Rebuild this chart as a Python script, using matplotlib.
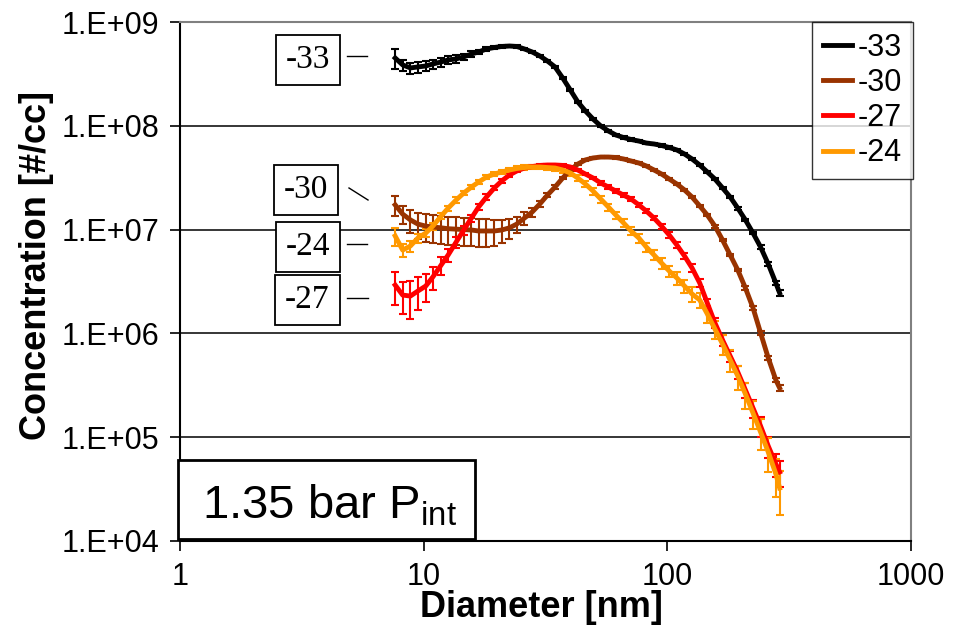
import numpy as np
import matplotlib
matplotlib.use("Agg")
import matplotlib.pyplot as plt
from matplotlib.patches import Rectangle
from matplotlib.ticker import FixedLocator, FuncFormatter, NullLocator

plt.rcParams['font.family'] = ['Liberation Sans', 'DejaVu Sans']
plt.rcParams['mathtext.default'] = 'regular'

# mobility diameter channels [nm]
diam = [7.64, 8.20, 8.82, 9.47, 10.2, 10.9, 11.8, 12.6, 13.6, 14.6,
        15.7, 16.8, 18.1, 19.5, 20.9, 22.5, 24.1, 25.9, 27.9, 30.0,
        32.2, 34.6, 37.2, 40.0, 42.9, 46.1, 49.6, 53.3, 57.3, 61.5,
        66.1, 71.0, 76.4, 82.0, 88.2, 94.7, 101.8, 109.4, 117.6, 126.3,
        135.8, 145.9, 156.8, 168.5, 181.1, 194.6, 209.1, 224.7, 241.4, 259.5,
        278.8, 289.0]

# number concentration [#/cc] for each case
conc_m33 = [4.50e8, 3.86e8, 3.61e8, 3.69e8, 3.77e8, 3.94e8, 4.12e8, 4.31e8, 4.41e8, 4.61e8,
            4.92e8, 5.14e8, 5.50e8, 5.68e8, 5.81e8, 5.87e8, 5.81e8, 5.50e8, 5.14e8, 4.70e8,
            4.21e8, 3.69e8, 2.89e8, 2.21e8, 1.70e8, 1.39e8, 1.16e8, 9.96e7, 8.91e7, 8.15e7,
            7.71e7, 7.38e7, 7.13e7, 6.82e7, 6.68e7, 6.46e7, 6.18e7, 5.85e7, 5.35e7, 4.79e7,
            4.19e7, 3.59e7, 3.07e7, 2.52e7, 2.06e7, 1.61e7, 1.24e7, 9.27e6, 6.79e6, 4.66e6,
            3.06e6, 2.45e6]
conc_m30 = [1.73e7, 1.41e7, 1.24e7, 1.13e7, 1.08e7, 1.06e7, 1.04e7, 1.02e7, 1.01e7, 1.00e7,
            9.91e6, 9.70e6, 9.70e6, 9.70e6, 9.91e6, 1.04e7, 1.13e7, 1.29e7, 1.48e7, 1.77e7,
            2.15e7, 2.57e7, 3.14e7, 3.75e7, 4.28e7, 4.69e7, 4.90e7, 5.00e7, 5.00e7, 4.95e7,
            4.79e7, 4.58e7, 4.38e7, 4.10e7, 3.75e7, 3.43e7, 3.07e7, 2.75e7, 2.41e7, 2.06e7,
            1.69e7, 1.38e7, 1.08e7, 7.94e6, 5.69e6, 4.08e6, 2.74e6, 1.76e6, 1.01e6, 5.80e5,
            3.56e5, 2.98e5]
conc_m27 = [2.92e6, 2.34e6, 2.29e6, 2.56e6, 2.86e6, 3.49e6, 4.56e6, 5.69e6, 7.60e6, 9.91e6,
            1.29e7, 1.65e7, 2.06e7, 2.52e7, 2.94e7, 3.36e7, 3.67e7, 3.92e7, 4.05e7, 4.15e7,
            4.19e7, 4.19e7, 4.15e7, 4.01e7, 3.75e7, 3.43e7, 3.14e7, 2.81e7, 2.57e7, 2.35e7,
            2.15e7, 1.97e7, 1.73e7, 1.51e7, 1.29e7, 1.08e7, 8.87e6, 7.11e6, 5.57e6, 4.27e6,
            3.06e6, 1.96e6, 1.26e6, 8.63e5, 6.05e5, 4.24e5, 2.85e5, 1.91e5, 1.28e5, 8.22e4,
            5.52e4, 4.62e4]
conc_m24 = [8.68e6, 6.35e6, 6.95e6, 8.30e6, 9.27e6, 1.08e7, 1.35e7, 1.61e7, 1.93e7, 2.25e7,
            2.57e7, 2.87e7, 3.21e7, 3.43e7, 3.59e7, 3.75e7, 3.88e7, 3.96e7, 4.01e7, 4.01e7,
            3.96e7, 3.92e7, 3.75e7, 3.51e7, 3.14e7, 2.75e7, 2.35e7, 1.97e7, 1.65e7, 1.38e7,
            1.16e7, 9.70e6, 8.30e6, 6.79e6, 5.69e6, 4.76e6, 3.99e6, 3.42e6, 2.86e6, 2.40e6,
            2.10e6, 1.54e6, 1.10e6, 7.90e5, 5.54e5, 3.89e5, 2.61e5, 1.71e5, 1.12e5, 7.19e4,
            4.43e4, 3.24e4]

# relative standard deviation of each point
err_m33 = [0.22, 0.12, 0.12, 0.12, 0.11, 0.10, 0.10, 0.09, 0.08, 0.07,
           0.06, 0.05, 0.04, 0.04, 0.03, 0.03, 0.03, 0.03, 0.03, 0.03,
           0.03, 0.03, 0.03, 0.03, 0.03, 0.03, 0.03, 0.03, 0.03, 0.03,
           0.03, 0.03, 0.03, 0.03, 0.03, 0.03, 0.03, 0.03, 0.03, 0.03,
           0.03, 0.03, 0.03, 0.03, 0.03, 0.03, 0.03, 0.03, 0.04, 0.04,
           0.05, 0.06]
err_m30 = [0.22, 0.20, 0.25, 0.28, 0.30, 0.30, 0.30, 0.30, 0.30, 0.30,
           0.30, 0.30, 0.30, 0.28, 0.25, 0.22, 0.18, 0.14, 0.10, 0.07,
           0.05, 0.04, 0.03, 0.03, 0.03, 0.03, 0.03, 0.03, 0.03, 0.03,
           0.03, 0.03, 0.03, 0.03, 0.03, 0.03, 0.03, 0.03, 0.03, 0.03,
           0.03, 0.03, 0.03, 0.03, 0.03, 0.03, 0.04, 0.04, 0.04, 0.05,
           0.05, 0.06]
err_m27 = [0.35, 0.35, 0.40, 0.35, 0.30, 0.25, 0.20, 0.15, 0.12, 0.10,
           0.08, 0.07, 0.06, 0.05, 0.04, 0.04, 0.03, 0.03, 0.03, 0.03,
           0.03, 0.03, 0.03, 0.03, 0.03, 0.03, 0.03, 0.04, 0.04, 0.04,
           0.04, 0.04, 0.05, 0.05, 0.05, 0.06, 0.06, 0.07, 0.07, 0.08,
           0.09, 0.10, 0.11, 0.12, 0.13, 0.15, 0.17, 0.19, 0.21, 0.23,
           0.25, 0.28]
err_m24 = [0.20, 0.15, 0.12, 0.10, 0.09, 0.08, 0.07, 0.06, 0.06, 0.05,
           0.05, 0.05, 0.05, 0.05, 0.05, 0.05, 0.05, 0.05, 0.05, 0.05,
           0.06, 0.06, 0.06, 0.07, 0.07, 0.07, 0.08, 0.08, 0.08, 0.08,
           0.09, 0.09, 0.10, 0.10, 0.11, 0.12, 0.13, 0.14, 0.15, 0.16,
           0.17, 0.18, 0.20, 0.22, 0.24, 0.26, 0.28, 0.30, 0.33, 0.36,
           0.40, 0.45]

labels = ['-33', '-30', '-27', '-24']
series = [conc_m33, conc_m30, conc_m27, conc_m24]
errors = [err_m33, err_m30, err_m27, err_m24]
colors = ['#000000', '#993300', '#FF0000', '#FF9900']

fig = plt.figure(figsize=(9.63, 6.3), dpi=100)
ax = fig.add_axes([180 / 963, 1 - 541 / 630, 731 / 963, 519 / 630])

d = np.array(diam)
handles = []
for lab, vals, rel, col in zip(labels, series, errors, colors):
    v = np.array(vals)
    cont = ax.errorbar(d, v, yerr=np.array(rel) * v, color=col, lw=3.5,
                       elinewidth=1.5, capsize=3, capthick=1.5, label=lab)
    handles.append(cont.lines[0])

ax.set_xscale('log')
ax.set_yscale('log')
ax.set_xlim(1, 1000)
ax.set_ylim(1e4, 1e9)

ax.xaxis.set_major_locator(FixedLocator([1, 10, 100, 1000]))
ax.xaxis.set_minor_locator(NullLocator())
ax.xaxis.set_major_formatter(FuncFormatter(lambda v, p: f'{v:g}'))
ax.yaxis.set_major_locator(FixedLocator([1e4, 1e5, 1e6, 1e7, 1e8, 1e9]))
ax.yaxis.set_minor_locator(NullLocator())
ax.yaxis.set_major_formatter(FuncFormatter(lambda v, p: f'1.E+{int(round(np.log10(v))):02d}'))
ax.tick_params(axis='both', which='major', direction='out', length=7, width=1.2,
               labelsize=22, pad=8)

ax.yaxis.grid(True, color='black', lw=1.1)
ax.set_axisbelow(True)
for side in ['left', 'bottom']:
    ax.spines[side].set_color('black')
    ax.spines[side].set_linewidth(1.5)
for side in ['top', 'right']:
    ax.spines[side].set_color('#808080')
    ax.spines[side].set_linewidth(1.5)

ax.set_xlabel('Diameter [nm]', fontsize=26, fontweight='bold')
ax.set_ylabel('Concentration [#/cc]', fontsize=26, fontweight='bold')
ax.xaxis.set_label_coords(0.494, -0.095)
ax.yaxis.set_label_coords(-0.172, 0.53)

leg = ax.legend(handles=handles, labels=labels, loc='upper right',
                bbox_to_anchor=(1.003, 1.0), borderaxespad=0, fontsize=22,
                frameon=True, fancybox=False, handlelength=0.95,
                handletextpad=0.2, labelspacing=0.17, borderpad=0.35)
leg.get_frame().set_edgecolor('black')
leg.get_frame().set_linewidth(1.0)
for h in leg.get_lines():
    h.set_linewidth(3.5)

# case labels next to the start of each curve
tags = [('-33', 0.175, 0.927, [(347, 56), (367, 56)]),
        ('-30', 0.172, 0.676, [(349, 188), (368, 200)]),
        ('-24', 0.175, 0.566, [(347, 244), (367, 244)]),
        ('-27', 0.174, 0.464, [(347, 298), (368, 298)])]
for txt, fx, fy, seg in tags:
    ax.text(fx, fy, txt, transform=ax.transAxes, ha='center', va='center',
            fontsize=24, family=['Liberation Serif', 'DejaVu Serif'],
            bbox=dict(boxstyle='square,pad=0.3', fc='white', ec='black', lw=1.3))
    xs = [(p[0] - 180) / 731 for p in seg]
    ys = [(541 - p[1]) / 519 for p in seg]
    ax.plot(xs, ys, transform=ax.transAxes, color='black', lw=1.0, clip_on=False)

ax.add_patch(Rectangle((-0.003, 0.004), 0.406, 0.152, transform=ax.transAxes,
                       fc='white', ec='black', lw=2, zorder=5, clip_on=False))
ax.text(0.030, 0.044, '1.35 bar P$_{int}$', transform=ax.transAxes,
        fontsize=34, ha='left', va='baseline', zorder=6)

fig.savefig('out.png', dpi=100)
